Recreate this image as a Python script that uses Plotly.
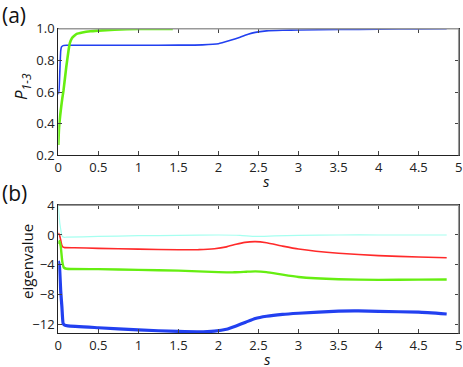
import plotly.graph_objects as go

# Panel (a): P_{1-3} vs s
a_blue_s = [0, 0.01, 0.02, 0.03, 0.04, 0.06, 0.1, 0.5, 1, 1.5, 1.8, 2.0, 2.14, 2.27, 2.37, 2.46, 2.6, 2.8, 3.0, 3.5, 4.0, 4.5, 4.85]
a_blue_p = [0.585, 0.62, 0.74, 0.86, 0.885, 0.893, 0.895, 0.895, 0.895, 0.896, 0.898, 0.905, 0.925, 0.946, 0.965, 0.977, 0.986, 0.99, 0.992, 0.995, 0.997, 0.999, 1.0]

a_green_s = [0, 0.01, 0.03, 0.05, 0.065, 0.1, 0.13, 0.145, 0.17, 0.2, 0.23, 0.3, 0.4, 0.5, 0.7, 1.0, 1.43]
a_green_p = [0.265, 0.38, 0.48, 0.56, 0.61, 0.76, 0.87, 0.91, 0.94, 0.955, 0.967, 0.976, 0.984, 0.988, 0.994, 0.998, 0.999]

# Panel (b): eigenvalues vs s
b_cyan_s = [0, 0.02, 0.05, 0.07, 0.1, 0.5, 1.0, 1.5, 2.0, 2.27, 2.46, 2.7, 3.0, 3.5, 4.0, 4.85]
b_cyan_v = [4.0, 1.5, -0.2, -0.31, -0.3, -0.2, -0.1, -0.05, 0.0, -0.05, -0.2, -0.12, -0.05, 0.0, 0.0, 0.0]

b_red_s = [0, 0.015, 0.03, 0.045, 0.06, 0.08, 0.2, 0.5, 1.0, 1.5, 1.75, 1.95, 2.1, 2.22, 2.33, 2.46, 2.6, 2.8, 3.0, 3.5, 4.0, 4.5, 4.85]
b_red_v = [0.27, 0.0, -0.68, -1.4, -1.65, -1.7, -1.72, -1.8, -1.9, -2.0, -1.98, -1.85, -1.6, -1.25, -1.0, -0.9, -1.05, -1.5, -1.9, -2.47, -2.78, -2.97, -3.07]

b_green_s = [0, 0.015, 0.03, 0.05, 0.07, 0.1, 0.5, 1.0, 1.5, 2.0, 2.2, 2.35, 2.46, 2.6, 2.8, 3.0, 3.5, 4.0, 4.5, 4.85]
b_green_v = [-1.2, -0.8, -1.5, -3.6, -4.4, -4.55, -4.6, -4.7, -4.8, -5.0, -5.03, -4.95, -4.9, -5.0, -5.35, -5.66, -5.97, -6.05, -6.02, -6.0]

b_blue_s = [0, 0.015, 0.03, 0.045, 0.06, 0.08, 0.12, 0.5, 1.0, 1.5, 1.75, 1.95, 2.1, 2.22, 2.34, 2.46, 2.6, 2.8, 3.0, 3.5, 3.75, 4.0, 4.5, 4.85]
b_blue_v = [-3.5, -4.3, -7.5, -9.7, -11.9, -12.15, -12.25, -12.5, -12.8, -13.0, -13.05, -12.95, -12.7, -12.25, -11.75, -11.25, -10.95, -10.7, -10.55, -10.25, -10.22, -10.3, -10.4, -10.65]

x_ticks = [0, 0.5, 1, 1.5, 2, 2.5, 3, 3.5, 4, 4.5, 5]
x_ticktext = ["0", "0.5", "1", "1.5", "2", "2.5", "3", "3.5", "4", "4.5", "5"]
a_yticks = [0.2, 0.4, 0.6, 0.8, 1.0]
a_yticktext = ["0.2", "0.4", "0.6", "0.8", "1.0"]
b_yticks = [4, 0, -4, -8, -12]
b_yticktext = ["4", "0", "\u22124", "\u22128", "\u221212"]

BLUE = "#2240f0"
GREEN = "#66ee11"
RED = "#ff2a2a"
CYAN = "#a6fff0"
FONT = "Open Sans"

fig = go.Figure()
fig.add_trace(go.Scatter(x=a_blue_s, y=a_blue_p, mode="lines", line=dict(color=BLUE, width=1.6, shape="spline", smoothing=0.4), xaxis="x", yaxis="y"))
fig.add_trace(go.Scatter(x=a_green_s, y=a_green_p, mode="lines", line=dict(color=GREEN, width=2.6, shape="spline", smoothing=0.4), xaxis="x", yaxis="y"))

fig.add_trace(go.Scatter(x=b_cyan_s, y=b_cyan_v, mode="lines", line=dict(color=CYAN, width=1.2, shape="spline", smoothing=0.4), xaxis="x2", yaxis="y2"))
fig.add_trace(go.Scatter(x=b_red_s, y=b_red_v, mode="lines", line=dict(color=RED, width=1.6, shape="spline", smoothing=0.4), xaxis="x2", yaxis="y2"))
fig.add_trace(go.Scatter(x=b_green_s, y=b_green_v, mode="lines", line=dict(color=GREEN, width=2.4, shape="spline", smoothing=0.4), xaxis="x2", yaxis="y2"))
fig.add_trace(go.Scatter(x=b_blue_s, y=b_blue_v, mode="lines", line=dict(color=BLUE, width=3.2, shape="spline", smoothing=0.4), xaxis="x2", yaxis="y2"))

W, H = 463, 367
xdom = [58.3 / W, 458.7 / W]
ydom_a = [1 - 155.3 / H, 1 - 28.7 / H]
ydom_b = [1 - 333.3 / H, 1 - 205.3 / H]

axis_common = dict(showgrid=False, zeroline=False, showline=True, linecolor="#222", linewidth=1.2,
                   ticks="inside", ticklen=4, tickcolor="#444", mirror="ticks", automargin=False,
                   ticklabeloverflow="allow",
                   tickfont=dict(family=FONT, size=13, color="#222"))

fig.update_layout(
    template="none",
    width=W, height=H, margin=dict(l=0, r=0, t=0, b=0, autoexpand=False),
    paper_bgcolor="white", plot_bgcolor="white", showlegend=False,
    xaxis=dict(domain=xdom, range=[0, 5], anchor="y", tickvals=x_ticks, ticktext=x_ticktext, **axis_common),
    yaxis=dict(domain=ydom_a, range=[0.2, 1.0], anchor="x", tickvals=a_yticks, ticktext=a_yticktext, **axis_common),
    xaxis2=dict(domain=xdom, range=[0, 5], anchor="y2", tickvals=x_ticks, ticktext=x_ticktext, **axis_common),
    yaxis2=dict(domain=ydom_b, range=[-13.25, 4], anchor="x2", tickvals=b_yticks, ticktext=b_yticktext, **axis_common),
    font=dict(family=FONT, color="#222"),
)

# gray top/right frame like the original
for xr, yr in (("x domain", "y domain"), ("x2 domain", "y2 domain")):
    fig.add_shape(type="line", xref=xr, yref=yr, x0=0, x1=1, y0=1, y1=1, line=dict(color="#999", width=1.5), layer="above")
    fig.add_shape(type="line", xref=xr, yref=yr, x0=1, x1=1, y0=0, y1=1, line=dict(color="#999", width=1.5), layer="above")

fig.add_annotation(text="(a)", x=0, y=1 - 15 / H, xref="paper", yref="paper", xanchor="left", yanchor="middle",
                   showarrow=False, font=dict(family=FONT, size=21, color="#111"))
fig.add_annotation(text="(b)", x=0, y=1 - 193 / H, xref="paper", yref="paper", xanchor="left", yanchor="middle",
                   showarrow=False, font=dict(family=FONT, size=21, color="#111"))
fig.add_annotation(text="<i>s</i>", x=266 / W, y=1 - 181 / H, xref="paper", yref="paper", xanchor="center", yanchor="middle",
                   showarrow=False, font=dict(family=FONT, size=15, color="#111"))
fig.add_annotation(text="<i>s</i>", x=267 / W, y=1 - 359 / H, xref="paper", yref="paper", xanchor="center", yanchor="middle",
                   showarrow=False, font=dict(family=FONT, size=15, color="#111"))
fig.add_annotation(text="<i>P</i><sub><i>1-3</i></sub>", x=21 / W, y=1 - 87 / H, xref="paper", yref="paper", xanchor="center", yanchor="middle",
                   textangle=-90, showarrow=False, font=dict(family=FONT, size=17, color="#111"))
fig.add_annotation(text="eigenvalue", x=27 / W, y=1 - 262 / H, xref="paper", yref="paper", xanchor="center", yanchor="middle",
                   textangle=-90, showarrow=False, font=dict(family=FONT, size=15, color="#111"))

fig.write_html("out.html", config={"displayModeBar": False},
               post_script="document.body.style.margin='0';document.body.style.overflow='hidden';")
